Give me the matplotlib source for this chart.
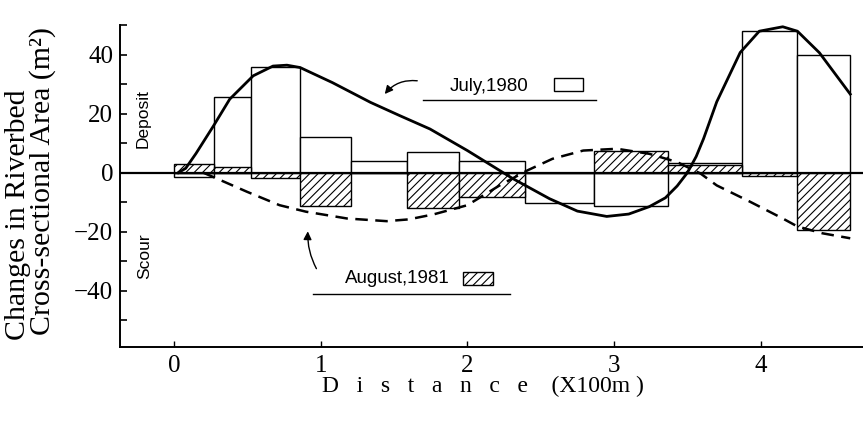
import numpy as np
import matplotlib
matplotlib.use("Agg")
import matplotlib.pyplot as plt
from matplotlib.patches import Rectangle

# section boundaries along the river (x100 m)
edges = [0.0, 0.27, 0.525, 0.86, 1.21, 1.59, 1.94, 2.39, 2.86, 3.37, 3.87, 4.25, 4.61]

# change of cross-sectional area per section (m2)
july_1980 = [-1.5, 25.7, 35.8, 12.0, 4.0, 7.0, 3.8, -10.1, -11.2, 3.3, 48.0, 40.0]
august_1981 = [3.0, 2.0, -1.8, -11.2, 0.0, -12.0, -8.2, 0.0, 7.2, 2.5, -1.2, -19.5]

# smoothed trend lines
july_curve_x = [0.03, 0.08, 0.15, 0.27, 0.38, 0.54, 0.675, 0.77, 0.86, 1.08, 1.34,
                1.54, 1.745, 2.0, 2.31, 2.56, 2.75, 2.95, 3.1, 3.24, 3.35, 3.43,
                3.50, 3.56, 3.61, 3.70, 3.86, 3.99, 4.15, 4.25, 4.40, 4.61]
july_curve_y = [0.0, 1.5, 6.5, 15.9, 24.9, 32.8, 36.1, 36.4, 35.6, 30.5, 23.8,
                19.3, 14.8, 7.5, -2.0, -8.8, -13.0, -14.8, -14.0, -11.5, -8.5, -4.5,
                0.0, 5.5, 11.5, 24.0, 40.7, 47.9, 49.4, 47.9, 40.6, 26.6]
aug_curve_x = [0.2, 0.27, 0.5, 0.72, 0.9, 1.18, 1.45, 1.6, 1.77, 2.0, 2.22, 2.41,
               2.58, 2.79, 3.02, 3.24, 3.43, 3.59, 3.70, 3.93, 4.15, 4.25, 4.42, 4.61]
aug_curve_y = [0.0, -1.5, -6.5, -11.0, -13.2, -15.5, -16.4, -15.8, -14.1, -11.0, -4.3, 0.8,
               4.7, 7.5, 8.1, 6.4, 3.6, -0.3, -4.3, -9.9, -15.5, -18.2, -20.5, -22.2]

serif = "Liberation Serif"
sans = "Liberation Sans"
plt.rcParams["hatch.linewidth"] = 0.8

fig = plt.figure(figsize=(8.63, 4.28), dpi=100)
ax = fig.add_axes([120 / 863, 1 - 347 / 428, 1 - 120 / 863, (347 - 25) / 428])

left = edges[:-1]
widths = np.diff(edges)
ax.bar(left, july_1980, width=widths, align="edge", facecolor="white",
       edgecolor="black", linewidth=1.0, zorder=2, clip_on=False)
ax.bar(left, august_1981, width=widths, align="edge", facecolor="white",
       edgecolor="black", linewidth=1.0, hatch="////", zorder=3, clip_on=False)

ax.axhline(0, color="black", lw=1.6, zorder=4)
ax.plot(july_curve_x, july_curve_y, color="black", lw=2.0, zorder=5, clip_on=False)
ax.plot(aug_curve_x, aug_curve_y, color="black", lw=1.8, dashes=(5, 3), zorder=5,
        clip_on=False)

# series labels with their swatches
ax.text(2.147, 29.1, "July,1980", fontsize=13.5, family=sans, ha="center", va="center")
ax.add_patch(Rectangle((2.59, 27.6), 0.2, 4.4, facecolor="white", edgecolor="black", lw=1))
ax.plot([1.70, 2.88], [24.7, 24.7], color="black", lw=1)
ax.annotate("", xy=(1.425, 25.9), xytext=(1.677, 31),
            arrowprops=dict(arrowstyle="-|>", connectionstyle="arc3,rad=0.3",
                            lw=1, color="black", mutation_scale=12))

ax.text(1.523, -35.9, "August,1981", fontsize=13.5, family=sans, ha="center", va="center")
ax.add_patch(Rectangle((1.97, -38.0), 0.205, 4.3, facecolor="white", edgecolor="black",
                       lw=1, hatch="////"))
ax.plot([0.948, 2.29], [-41.1, -41.1], color="black", lw=1)
ax.annotate("", xy=(0.913, -18.9), xytext=(0.98, -33.3),
            arrowprops=dict(arrowstyle="-|>", connectionstyle="arc3,rad=-0.15",
                            lw=1, color="black", mutation_scale=12))

ax.text(-0.211, 18.2, "Deposit", fontsize=12.5, family=sans, rotation=90,
        ha="center", va="center")
ax.text(-0.198, -28.3, "Scour", fontsize=12.5, family=sans, rotation=90,
        ha="center", va="center")

ax.set_xlim(-0.368, 4.697)
ax.set_ylim(-59, 50)
ax.set_xticks([0, 1, 2, 3, 4])
ax.set_yticks([-40, -20, 0, 20, 40])
ax.set_yticks([-50, -30, -10, 10, 30, 50], minor=True)
ax.tick_params(axis="y", which="both", direction="in", length=5, width=1.2, pad=5)
ax.tick_params(axis="x", direction="in", length=4, width=1.0, pad=6)
for lab in ax.get_xticklabels() + ax.get_yticklabels():
    lab.set_fontfamily(serif)
    lab.set_fontsize(18)

for side in ["top", "right"]:
    ax.spines[side].set_visible(False)
for side in ["left", "bottom"]:
    ax.spines[side].set_linewidth(1.4)

ax.set_xlabel("D   i   s   t   a   n   c   e    (X100m )", fontsize=17, family=serif,
              va="center")
ax.xaxis.set_label_coords((483 - 120) / 743, (347 - 386) / 322)
fig.text(18 / 863, 1 - 215 / 428, "Changes in Riverbed", fontsize=21.5, family=serif,
         rotation=90, ha="center", va="center")
fig.text(43 / 863, 1 - 181 / 428, "Cross-sectional Area (m²)", fontsize=21.5, family=serif,
         rotation=90, ha="center", va="center")

fig.savefig("out.png", dpi=100)
